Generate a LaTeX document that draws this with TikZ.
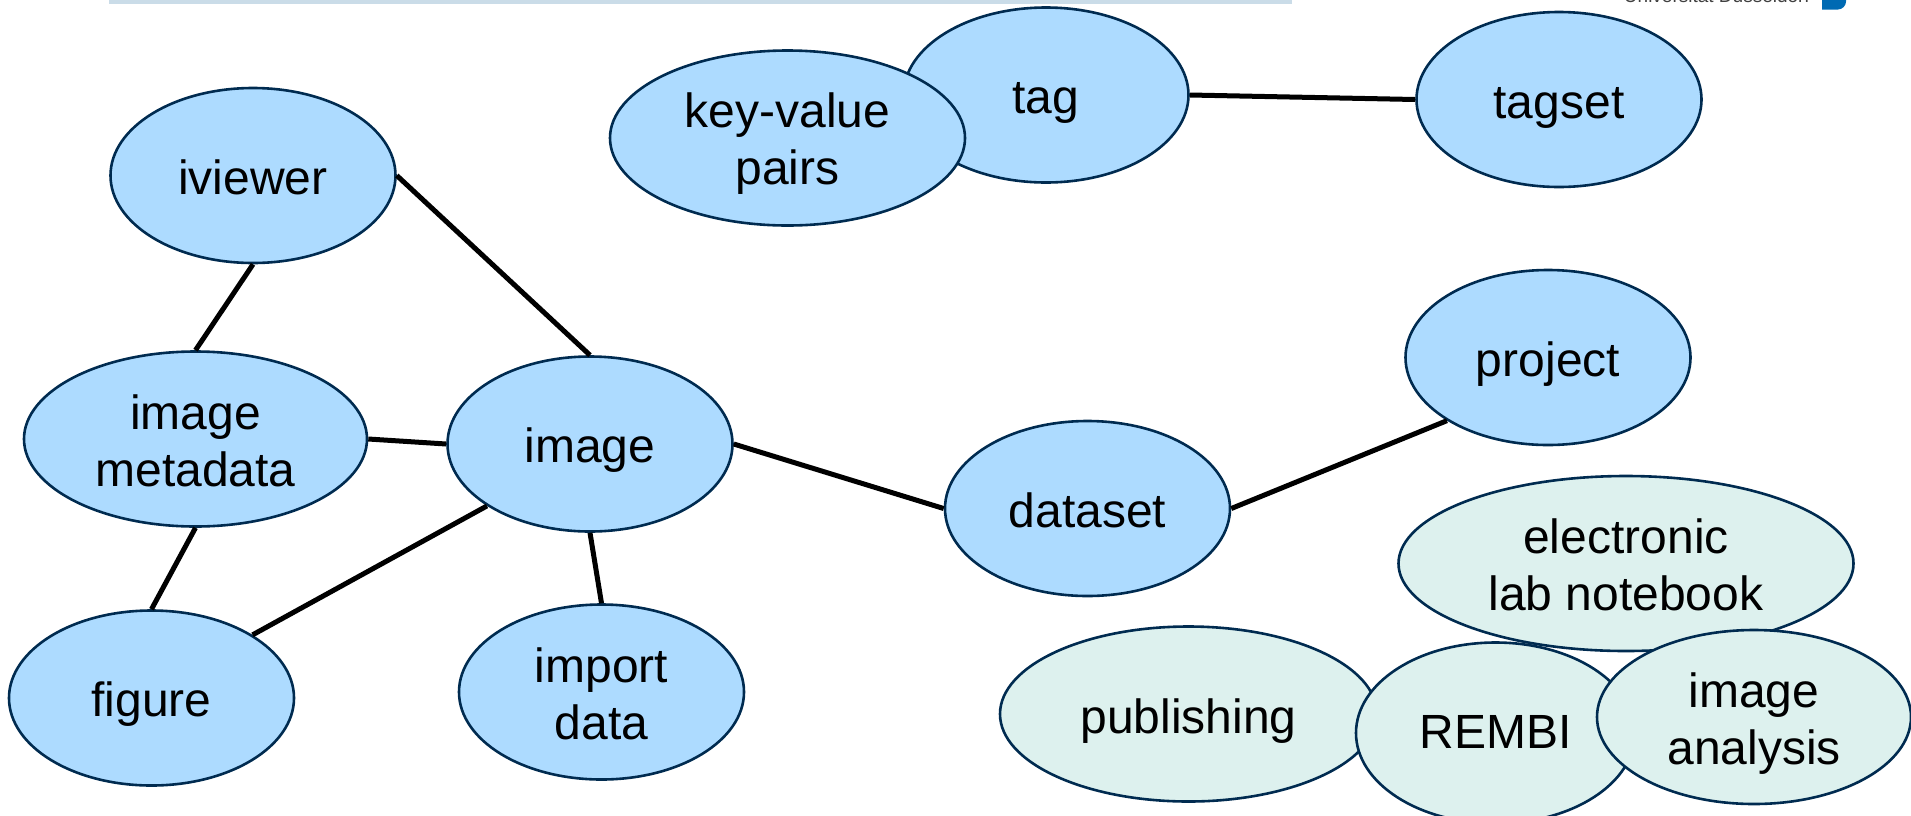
\documentclass[tikz,border=0pt]{standalone}
\usepackage{fontspec}
\setmainfont{Liberation Sans}
\usetikzlibrary{shapes.geometric}
\definecolor{nodeblue}{HTML}{ADDBFF}
\definecolor{nodeteal}{HTML}{DDF1EE}
\definecolor{edgeline}{HTML}{002B50}
\definecolor{barcol}{HTML}{CADCE8}
\definecolor{logoblue}{HTML}{006AB3}
\newcommand{\lst}{\rule[-10pt]{0pt}{57pt}}
\tikzset{
  x=1pt,y=-1pt,
  blob/.style={ellipse,draw=edgeline,line width=2.6pt,fill=nodeblue,minimum width=285pt,minimum height=175pt,inner sep=0pt,align=center,font=\fontsize{48}{57}\selectfont},
  tealblob/.style={blob,fill=nodeteal},
  link/.style={draw=black,line width=5pt},
}
\begin{document}
\begin{tikzpicture}
\useasboundingbox (0,0) rectangle (1911,815);
\begin{scope}
\clip (0,0) rectangle (1911,815);
\fill[barcol] (109,0) rectangle (1292,3.5);
\node[anchor=base east,font=\fontsize{19}{23}\selectfont,text=black!75,inner sep=0pt] (uni) at (1810,2) {Universität Düsseldorf};
\fill[logoblue] (1822,0) -- (1846,0) -- (1846,1.5) .. controls (1846,6) and (1842,9.5) .. (1838,9.5) -- (1822,9.5) -- cycle;
\node[blob] (iviewer) at (253,175.5) {\lst iviewer};
\node[blob,minimum width=343pt] (meta) at (195.5,439) {\lst image\\\lst metadata};
\node[blob] (image) at (590,444) {\lst image};
\node[blob] (figure) at (151.5,698) {\lst figure};
\node[blob] (import) at (601.5,692) {\lst import\\\lst data};
\node[blob] (dataset) at (1087.5,508.5) {\lst dataset};
\node[blob] (project) at (1548,357.5) {\lst project};
\node[blob] (tag) at (1046,95) {\lst tag};
\node[blob,minimum width=355pt] (kv) at (787.5,138) {\lst\raisebox{1pt}{key-value}\\\lst\raisebox{1pt}{pairs}};
\node[blob] (tagset) at (1559,99.5) {\lst tagset};
\draw[link] (iviewer.east) -- (image.north);
\draw[link] (iviewer.south) -- (meta.north);
\draw[link] (meta.east) -- (image.west);
\draw[link] (meta.south) -- (figure.north);
\draw[link] (figure.32) -- (image.211.6);
\draw[link] (image.south) -- (import.north);
\draw[link] (image.east) -- (dataset.west);
\draw[link] (dataset.east) -- (project.212);
\draw[link] (tag.east) -- (tagset.west);
\node[tealblob,minimum width=455pt] (eln) at (1626,563.5) {\lst electronic\\\lst lab notebook};
\node[tealblob,minimum width=377pt] (pub) at (1188.5,714) {\lst\raisebox{-2pt}{publishing}};
\node[tealblob,minimum width=279pt,minimum height=181pt] (rembi) at (1495.5,733) {\lst\raisebox{3pt}{REMBI}};
\node[tealblob,minimum width=314pt,minimum height=174pt] (analysis) at (1754,717) {\lst image\\\lst analysis};
\end{scope}
\end{tikzpicture}
\end{document}
